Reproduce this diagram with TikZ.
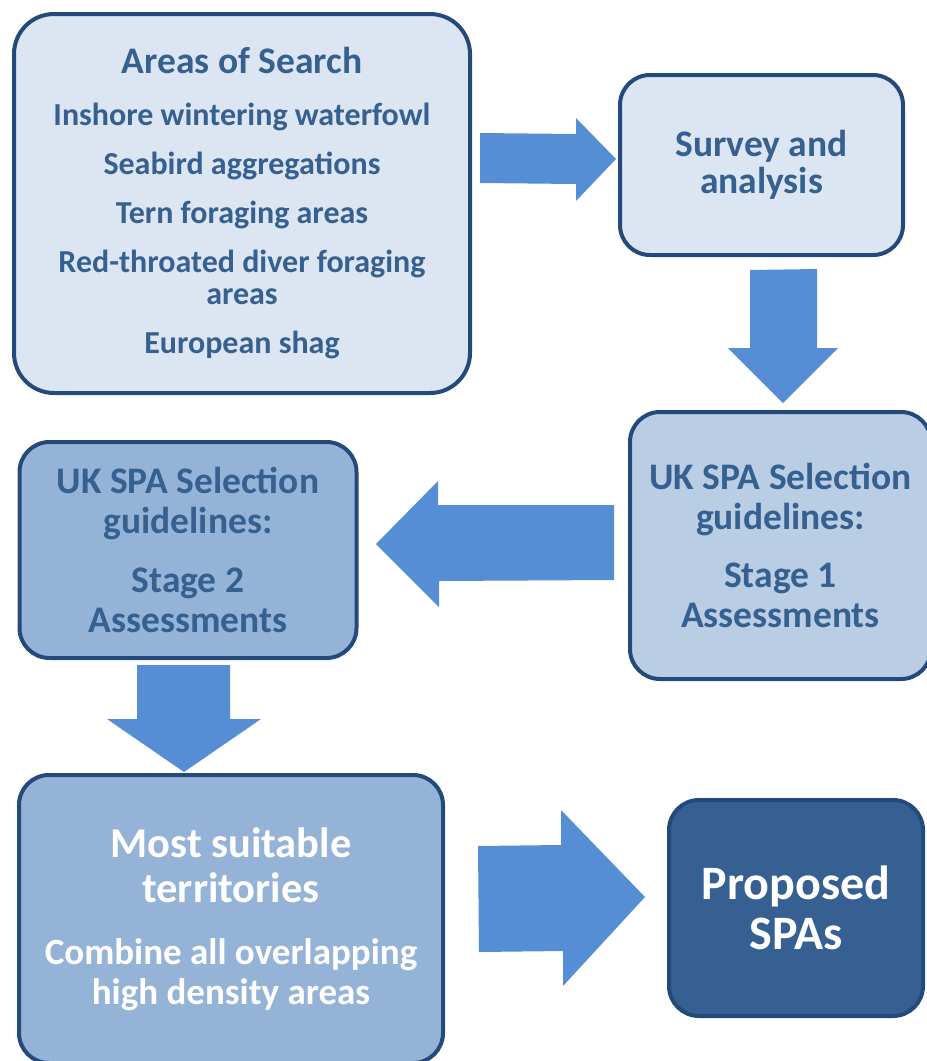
\documentclass[tikz,border=0pt]{standalone}
\usepackage{fontspec}
\setmainfont{Carlito}
\usetikzlibrary{positioning}
\definecolor{edgeblue}{HTML}{244A7C}
\definecolor{txtblue}{HTML}{36608F}
\definecolor{paleblue}{HTML}{DCE6F2}
\definecolor{midblue}{HTML}{B9CDE5}
\definecolor{softblue}{HTML}{95B3D7}
\definecolor{deepblue}{HTML}{376092}
\definecolor{arrowblue}{HTML}{558ED5}

\begin{document}
\begin{tikzpicture}[x=1pt,y=-1pt,
  every node/.style={font=\bfseries,align=center,text=txtblue},
  stagebox/.style={draw=edgeblue,line width=4pt,rounded corners=30pt,
    inner sep=0pt},
  itemfont/.style={font=\fontsize{32}{32}\selectfont\bfseries},
  headfont/.style={font=\fontsize{37.5}{40}\selectfont\bfseries},
  flowarrow/.style={fill=arrowblue}]
  \useasboundingbox (0,0) rectangle (927,1061);

  \node[stagebox,fill=paleblue,rounded corners=40pt,minimum width=456pt,
    minimum height=379pt,itemfont] (search) at (242,203.5)
    {{\fontsize{37.5}{36}\selectfont Areas of Search}\\[20pt]
    Inshore wintering waterfowl\\[17pt]
    Seabird aggregations\\[17pt]
    Tern foraging areas\\[17pt]
    Red-throated diver foraging\\areas\\[17pt]
    European shag};
  \node[stagebox,fill=paleblue,minimum width=283pt,minimum height=180pt,
    font=\fontsize{37.5}{37}\selectfont\bfseries] (survey) at (761.5,165)
    {Survey and\\analysis};
  \node[stagebox,fill=midblue,minimum width=301pt,minimum height=267pt,
    headfont] (stageone) at (780.5,545.5)
    {UK SPA Selection\\guidelines:\\[18pt]Stage 1\\Assessments};
  \node[stagebox,fill=softblue,minimum width=337pt,minimum height=216pt,
    headfont] (stagetwo) at (188,550)
    {UK SPA Selection\\guidelines:\\[19pt]Stage 2\\Assessments};
  \node[stagebox,fill=softblue,minimum width=424pt,minimum height=288pt,
    text=white,font=\fontsize{37}{40}\selectfont\bfseries] (suitable)
    at (231,919)
    {{\fontsize{42.5}{45}\selectfont Most suitable}\\[5pt]
    {\fontsize{42.5}{45}\selectfont territories}\\[22pt]
    Combine all overlapping\\high density areas};
  \node[stagebox,fill=deepblue,minimum width=254pt,minimum height=216pt,
    text=white,font=\fontsize{48}{50}\selectfont\bfseries] (proposed)
    at (796,908) {Proposed\\SPAs};

  % block arrows
  \fill[flowarrow] (480,133) -- (576,134) -- (576,118) -- (616,159)
    -- (576,201) -- (576,184) -- (480,183) -- cycle;
  \fill[flowarrow] (750,270) -- (817,269) -- (817,348) -- (838,348)
    -- (783,403) -- (728,348) -- (750,348) -- cycle;
  \fill[flowarrow] (614,505) -- (438,505) -- (438,481) -- (376,544)
    -- (439,607) -- (439,581) -- (614,580) -- cycle;
  \fill[flowarrow] (137,665) -- (230,665) -- (230,719) -- (261,719)
    -- (184,772) -- (107,719) -- (137,719) -- cycle;
  \fill[flowarrow] (478,846) -- (561,845) -- (561,810) -- (645,897)
    -- (563,986) -- (563,951) -- (479,952) -- cycle;
\end{tikzpicture}
\end{document}
